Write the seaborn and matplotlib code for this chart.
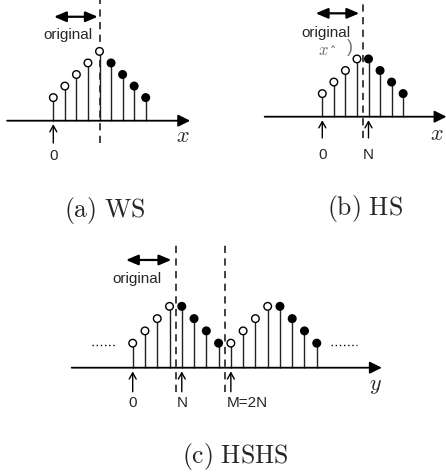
import matplotlib

matplotlib.use("Agg")
import matplotlib.pyplot as plt
import pandas as pd
import seaborn as sns

W, H, DPI = 446, 476, 100

# sample values (stem heights) for each extension scheme
WS_VALUES = [2, 3, 4, 5, 6, 5, 4, 3, 2]
WS_KIND = ["orig", "orig", "orig", "orig", "orig", "ext", "ext", "ext", "ext"]
HS_VALUES = [2, 3, 4, 5, 5, 4, 3, 2]
HS_KIND = ["orig", "orig", "orig", "orig", "ext", "ext", "ext", "ext"]
HSHS_VALUES = [2, 3, 4, 5, 5, 4, 3, 2, 2, 3, 4, 5, 5, 4, 3, 2]
HSHS_KIND = ["orig", "orig", "orig", "orig", "ext", "ext", "ext", "ext",
             "orig", "orig", "orig", "orig", "ext", "ext", "ext", "ext"]

PALETTE = {"orig": "white", "ext": "black"}
SANS = "Liberation Sans"

sns.set_style("white")
plt.rcParams["font.family"] = [SANS, "DejaVu Sans"]
plt.rcParams["mathtext.fontset"] = "cm"


def panel_axes(fig, origin_px, unit):
    # full-figure axes where data unit = one sample step
    ax = fig.add_axes([0, 0, 1, 1], facecolor="none")
    ox, oy = origin_px
    ax.set_axis_off()
    return ax, ((-ox / unit, (W - ox) / unit), (-(H - oy) / unit, oy / unit))


def draw_stems(ax, values, kinds):
    df = pd.DataFrame({"n": range(len(values)), "value": values, "kind": kinds})
    ax.vlines(df["n"], 0, df["value"], color="#222222", lw=1.0, zorder=2)
    sns.scatterplot(data=df, x="n", y="value", hue="kind", palette=PALETTE,
                    edgecolor="black", linewidth=1.0, s=30, legend=False,
                    ax=ax, zorder=3)


def arrow(ax, start, end, style, lw, ms):
    ax.annotate("", xy=end, xytext=start,
                arrowprops=dict(arrowstyle=style, lw=lw, color="black",
                                mutation_scale=ms, shrinkA=0, shrinkB=0))


def base_axis(ax, x0, x1):
    arrow(ax, (x0, 0), (x1, 0), "-|>,head_length=0.4,head_width=0.2", 1.3, 18)


def span_arrow(ax, x0, x1, y):
    arrow(ax, (x0, y), (x1, y), "<|-|>,head_length=0.4,head_width=0.17", 1.6, 18)


def up_arrows(ax, positions, y0):
    for p in positions:
        arrow(ax, (p, y0), (p, -0.3), "->,head_length=0.45,head_width=0.25", 1.0, 10)


def dashed(ax, xs, y0, y1):
    ax.vlines(xs, y0, y1, colors="#333333", lw=1.3, linestyles=(0, (4, 3)), zorder=1)


fig = plt.figure(figsize=(W / DPI, H / DPI), dpi=DPI)

# (a) WS
ax, lims = panel_axes(fig, (53.3, 120.7), 11.55)
draw_stems(ax, WS_VALUES, WS_KIND)
base_axis(ax, -4.0, 11.85)
dashed(ax, [4], -1.93, 10.45)
span_arrow(ax, 0.06, 3.85, 9.0)
ax.text(1.27, 7.42, "original", ha="center", va="center", fontsize=11)
up_arrows(ax, [0], -1.93)
ax.text(0, -3.06, "0", ha="center", va="center", fontsize=11)
ax.text(11.23, -1.41, "$x$", ha="center", va="center", fontsize=16)
ax.set_xlim(*lims[0])
ax.set_ylim(*lims[1])

# (b) HS
ax, lims = panel_axes(fig, (322.3, 116.7), 11.55)
draw_stems(ax, HS_VALUES, HS_KIND)
base_axis(ax, -4.99, 10.75)
dashed(ax, [3.5], -1.84, 10.2)
span_arrow(ax, -0.57, 3.2, 8.95)
ax.text(0.35, 7.22, "original", ha="center", va="center", fontsize=11)
ax.text(0.06, 5.77, "$x$", ha="center", va="center", fontsize=12, color="#666666")
ax.text(0.92, 6.1, "\u02c6", ha="center", va="top", fontsize=9,
        color="#555555", family="DejaVu Serif")
ax.text(2.35, 6.0, ")", ha="center", va="center", fontsize=13, color="#777777")
up_arrows(ax, [0, 4], -1.84)
ax.text(0, -3.32, "0", ha="center", va="center", fontsize=11)
ax.text(4, -3.32, "N", ha="center", va="center", fontsize=11)
ax.text(9.95, -1.58, "$x$", ha="center", va="center", fontsize=16)
ax.set_xlim(*lims[0])
ax.set_ylim(*lims[1])

# (c) HSHS
ax, lims = panel_axes(fig, (132.7, 367.7), 12.27)
draw_stems(ax, HSHS_VALUES, HSHS_KIND)
base_axis(ax, -4.97, 20.3)
dashed(ax, [3.5, 7.5], -1.96, 10.08)
span_arrow(ax, -0.55, 3.15, 8.78)
ax.text(0.37, 7.2, "original", ha="center", va="center", fontsize=11)
ax.plot([-3.3, -1.3], [1.85, 1.85], color="black", lw=1.0, ls=(0, (1, 2)))
ax.plot([16.2, 18.25], [1.85, 1.85], color="black", lw=1.0, ls=(0, (1, 2)))
up_arrows(ax, [0, 4, 8], -1.96)
ax.text(0, -2.9, "0", ha="center", va="center", fontsize=11)
ax.text(4, -2.9, "N", ha="center", va="center", fontsize=11)
ax.text(7.66, -2.9, "M=2N", ha="left", va="center", fontsize=11)
ax.text(19.75, -1.41, "$y$", ha="center", va="center", fontsize=16)
ax.set_xlim(*lims[0])
ax.set_ylim(*lims[1])

# captions
for label, (cx, cy) in [(r"$\mathrm{(a)\ WS}$", (105, 210)),
                        (r"$\mathrm{(b)\ HS}$", (365, 208)),
                        (r"$\mathrm{(c)\ HSHS}$", (235, 456.7))]:
    fig.text(cx / W, 1 - cy / H, label, ha="center", va="center", fontsize=18.5)

fig.savefig("out.png", dpi=DPI)
